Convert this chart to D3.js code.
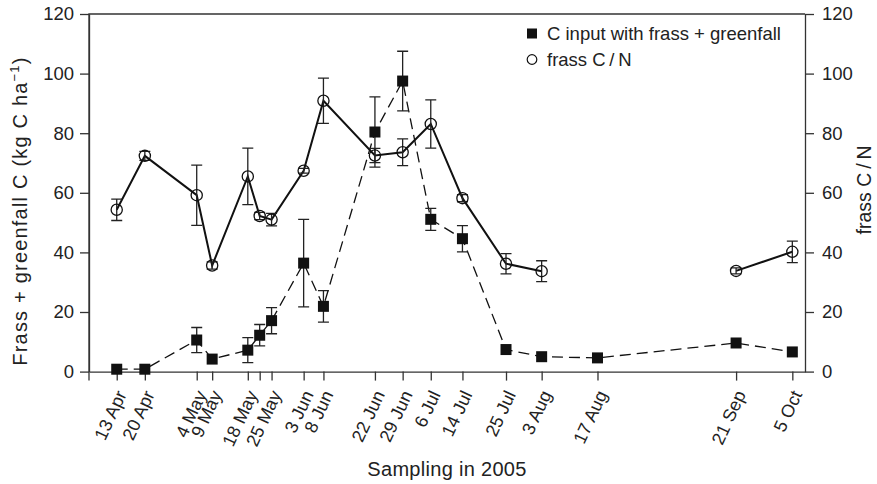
<!DOCTYPE html>
<html>
<head>
<meta charset="utf-8">
<script src="https://cdn.jsdelivr.net/npm/d3@7"></script>
<style>
  body { margin: 0; background: #fff; }
  svg { font-family: "Liberation Sans", Arial, sans-serif; }
  .axis path, .axis line { stroke: #333; stroke-width: 1.3; }
  .axis text { fill: #222; }
</style>
</head>
<body>
<script>

// sampling position on the day-of-year axis
var sampleDay = [107.4, 114.5, 127.6, 131.5, 140.5, 143.5, 146.5, 154.6, 159.6,
                 172.6, 179.6, 186.7, 194.7, 205.7, 214.7, 228.8, 263.8, 278];

var sampleLabels = ["13 Apr", "20 Apr", "4 May", "9 May", "18 May", "", "25 May",
                    "3 Jun", "8 Jun", "22 Jun", "29 Jun", "6 Jul", "14 Jul",
                    "25 Jul", "3 Aug", "17 Aug", "21 Sep", "5 Oct"];

// C input with frass + greenfall (kg C / ha) and its error
var cInput = [0.8, 0.8, 10.6, 4.2, 7.2, 12.2, 17.1, 36.4, 21.9,
              80.4, 97.5, 51.1, 44.6, 7.4, 5.0, 4.6, 9.6, 6.6];
var cInputErr = [0, 0, 4.2, 0, 4.2, 3.6, 4.4, 14.7, 5.3,
                 11.8, 10, 3.7, 4.4, 0, 0, 0, 0, 0];

// frass C/N and its error (no value on 17 Aug)
var frassCN = [54.3, 72.4, 59.2, 35.6, 65.5, 52.2, 51.0, 67.4, 90.9,
               72.5, 73.6, 83.1, 58.2, 36.2, 33.7, null, 33.8, 40.2];
var frassCNErr = [3.6, 1.5, 10.1, 1.2, 9.5, 1.2, 2.1, 0.8, 7.6,
                  2.4, 4.5, 8.1, 1.2, 3.4, 3.5, null, 1.0, 3.6];

var yTicks = [0, 20, 40, 60, 80, 100, 120];

window.onload = function() {

  var chart = {
    w: 877,
    h: 484,
    left: 89,
    right: 805,
    top: 14,
    bottom: 371.6
  };

  var svg = d3.select("body")
              .append("svg")
                .attr("width", chart.w)
                .attr("height", chart.h);

  var xScale = d3.scaleLinear()
                 .domain([100.4, 281.2])
                 .range([chart.left, chart.right]);

  var yScale = d3.scaleLinear()
                 .domain([0, 120])
                 .range([chart.bottom, chart.top]);

  // frame
  svg.append("path")
     .attr("d", "M" + chart.left + "," + (chart.bottom + 9) + "V" + chart.top + "H" + chart.right)
     .attr("fill", "none")
     .attr("stroke", "#333")
     .attr("stroke-width", 1.3);

  // x axis
  var xAxis = d3.axisBottom(xScale)
                .tickValues(sampleDay)
                .tickFormat(function(d, i) { return sampleLabels[i]; })
                .tickSize(9)
                .tickSizeOuter(0);

  var gx = svg.append("g")
              .attr("class", "axis")
              .attr("transform", "translate(0," + chart.bottom + ")")
              .call(xAxis);

  gx.selectAll("text")
    .attr("x", 0)
    .attr("y", 0)
    .attr("dy", "0.35em")
    .attr("text-anchor", "end")
    .attr("font-size", "18px")
    .attr("transform", "translate(4,20) rotate(-65)");

  // left axis
  var yAxisL = d3.axisLeft(yScale)
                 .tickValues(yTicks)
                 .tickSize(9)
                 .tickSizeOuter(0)
                 .tickPadding(6);

  svg.append("g")
     .attr("class", "axis")
     .attr("transform", "translate(" + chart.left + ",0)")
     .call(yAxisL)
     .selectAll("text")
       .attr("font-size", "18.5px");

  // right axis
  var yAxisR = d3.axisRight(yScale)
                 .tickValues(yTicks)
                 .tickSize(9)
                 .tickSizeOuter(0)
                 .tickPadding(8);

  svg.append("g")
     .attr("class", "axis")
     .attr("transform", "translate(" + chart.right + ",0)")
     .call(yAxisR)
     .selectAll("text")
       .attr("font-size", "18.5px");

  // axis titles
  var leftTitle = svg.append("text")
                     .attr("transform", "translate(27,211) rotate(-90)")
                     .attr("text-anchor", "middle")
                     .attr("font-size", "20px")
                     .attr("letter-spacing", "1.2px")
                     .attr("fill", "#222");
  leftTitle.append("tspan").text("Frass + greenfall C (kg C ha");
  leftTitle.append("tspan")
           .attr("font-size", "13px")
           .attr("dy", "-8")
           .text("\u22121");
  leftTitle.append("tspan")
           .attr("dy", "8")
           .text(")");

  svg.append("text")
     .attr("transform", "translate(871,190) rotate(-90)")
     .attr("text-anchor", "middle")
     .attr("font-size", "19.5px")
     .attr("fill", "#222")
     .text("frass C\u2009/\u2009N");

  svg.append("text")
     .attr("x", (chart.left + chart.right) / 2)
     .attr("y", 476)
     .attr("text-anchor", "middle")
     .attr("font-size", "20px")
     .attr("letter-spacing", "0.3px")
     .attr("fill", "#222")
     .text("Sampling in 2005");

  var data = sampleDay.map(function(d, i) {
    return {
      day: d,
      c: cInput[i],
      cErr: cInputErr[i],
      cn: frassCN[i],
      cnErr: frassCNErr[i]
    };
  });

  // dashed line for C input
  var cLine = d3.line()
                .x(function(d) { return xScale(d.day); })
                .y(function(d) { return yScale(d.c); });

  svg.append("path")
     .datum(data)
     .attr("d", cLine)
     .attr("fill", "none")
     .attr("stroke", "#111")
     .attr("stroke-width", 1.3)
     .attr("stroke-dasharray", "11,6");

  // solid line for frass C/N, broken where no value
  var cnLine = d3.line()
                 .defined(function(d) { return d.cn != null; })
                 .x(function(d) { return xScale(d.day); })
                 .y(function(d) { return yScale(d.cn); });

  svg.append("path")
     .datum(data)
     .attr("d", cnLine)
     .attr("fill", "none")
     .attr("stroke", "#111")
     .attr("stroke-width", 2);

  // error bars
  var cap = 5.5;
  function errorBar(d, val, err) {
    var x = xScale(d.day);
    var y1 = yScale(val + err);
    var y2 = yScale(val - err);
    return "M" + (x - cap) + "," + y1 + "H" + (x + cap) +
           "M" + x + "," + y1 + "V" + y2 +
           "M" + (x - cap) + "," + y2 + "H" + (x + cap);
  }

  svg.selectAll(".errC")
     .data(data.filter(function(d) { return d.cErr > 0; }))
     .enter()
   .append("path")
     .attr("class", "errC")
     .attr("d", function(d) { return errorBar(d, d.c, d.cErr); })
     .attr("fill", "none")
     .attr("stroke", "#222")
     .attr("stroke-width", 1.3);

  svg.selectAll(".errCN")
     .data(data.filter(function(d) { return d.cn != null && d.cnErr > 0; }))
     .enter()
   .append("path")
     .attr("class", "errCN")
     .attr("d", function(d) { return errorBar(d, d.cn, d.cnErr); })
     .attr("fill", "none")
     .attr("stroke", "#222")
     .attr("stroke-width", 1.3);

  // markers
  var sq = 11;
  svg.selectAll(".sq")
     .data(data)
     .enter()
   .append("rect")
     .attr("class", "sq")
     .attr("x", function(d) { return xScale(d.day) - sq / 2; })
     .attr("y", function(d) { return yScale(d.c) - sq / 2; })
     .attr("width", sq)
     .attr("height", sq)
     .attr("fill", "#111");

  svg.selectAll(".circ")
     .data(data.filter(function(d) { return d.cn != null; }))
     .enter()
   .append("circle")
     .attr("class", "circ")
     .attr("cx", function(d) { return xScale(d.day); })
     .attr("cy", function(d) { return yScale(d.cn); })
     .attr("r", 5.6)
     .attr("fill", "none")
     .attr("stroke", "#111")
     .attr("stroke-width", 1.3);

  // legend
  var legend = svg.append("g").attr("transform", "translate(532,0)");

  legend.append("rect")
        .attr("x", -5)
        .attr("y", 28.5)
        .attr("width", 10)
        .attr("height", 10)
        .attr("fill", "#111");

  legend.append("circle")
        .attr("cx", 0)
        .attr("cy", 59.5)
        .attr("r", 4.8)
        .attr("fill", "none")
        .attr("stroke", "#111")
        .attr("stroke-width", 1.2);

  legend.append("text")
        .attr("x", 15)
        .attr("y", 39.5)
        .attr("font-size", "18.5px")
        .attr("fill", "#222")
        .text("C input with frass + greenfall");

  legend.append("text")
        .attr("x", 15)
        .attr("y", 65.5)
        .attr("font-size", "18.5px")
        .attr("fill", "#222")
        .text("frass C\u2009/\u2009N");

};

</script>
</body>
</html>
